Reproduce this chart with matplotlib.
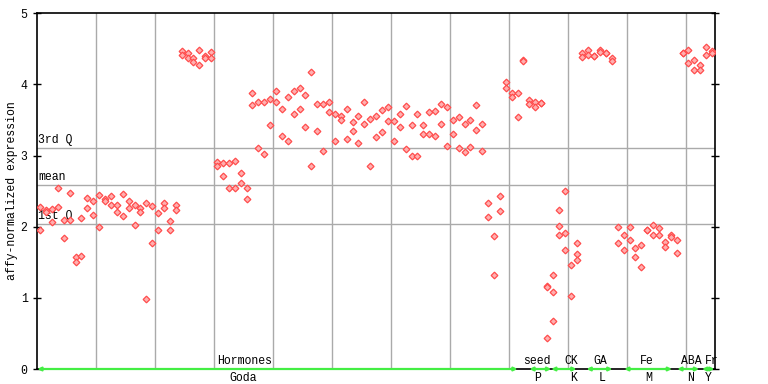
import matplotlib
matplotlib.use("Agg")
import matplotlib.pyplot as plt

## expression values per sample (replicates), read left to right
expr = [
    [2.28, 1.96], [2.23, 2.20], [2.25, 2.07], [2.55, 2.28], [2.09, 1.84],
    [2.48, 2.09], [1.57, 1.51], [2.12, 1.59], [2.41, 2.26], [2.36, 2.17],
    [2.45, 1.99], [2.39, 2.36], [2.43, 2.30], [2.30, 2.20], [2.46, 2.15],
    [2.36, 2.26], [2.30, 2.03], [2.26, 2.20], [2.34, 0.98], [2.29, 1.77],
    [2.19, 1.96], [2.33, 2.27], [2.08, 1.96], [2.30, 2.23], [4.47, 4.41],
    [4.44, 4.37], [4.37, 4.31], [4.49, 4.28], [4.40, 4.37], [4.45, 4.37],
    [2.91, 2.85], [2.89, 2.71], [2.89, 2.55], [2.93, 2.54], [2.76, 2.62],
    [2.55, 2.39], [3.88, 3.71], [3.76, 3.10], [3.75, 3.02], [3.80, 3.43],
    [3.91, 3.76], [3.66, 3.27], [3.83, 3.21], [3.91, 3.58], [3.95, 3.65],
    [3.85, 3.40], [4.18, 2.85], [3.73, 3.34], [3.72, 3.06], [3.75, 3.61],
    [3.59, 3.21], [3.55, 3.50], [3.66, 3.24], [3.47, 3.34], [3.55, 3.17],
    [3.75, 3.45], [3.52, 2.85], [3.55, 3.26], [3.64, 3.33], [3.68, 3.48],
    [3.48, 3.21], [3.58, 3.40], [3.69, 3.09], [3.43, 3.00], [3.59, 2.99],
    [3.43, 3.30], [3.61, 3.31], [3.62, 3.28], [3.72, 3.45], [3.68, 3.13],
    [3.50, 3.31], [3.54, 3.10], [3.45, 3.05], [3.50, 3.12], [3.71, 3.36],
    [3.44, 3.07], [2.34, 2.13], [1.87, 1.32], [2.43, 2.22], [4.04, 3.95],
    [3.88, 3.83], [3.88, 3.54], [4.34, 4.33], [3.78, 3.72], [3.75, 3.68],
    [3.74, 3.74], [1.17, 1.15, 0.43], [1.32, 1.08, 0.67], [2.24, 2.01, 1.88],
    [2.50, 1.91, 1.67], [1.46, 1.02], [1.77, 1.61, 1.53], [4.44, 4.38],
    [4.48, 4.42], [4.40, 4.40], [4.49, 4.45], [4.44, 4.44], [4.37, 4.33],
    [1.99, 1.77], [1.88, 1.67], [1.99, 1.81], [1.70, 1.58], [1.74, 1.44],
    [1.96, 1.96], [2.02, 1.88], [1.98, 1.89], [1.79, 1.71], [1.88, 1.85],
    [1.82, 1.63], [4.44, 4.44], [4.48, 4.30], [4.35, 4.20], [4.28, 4.21],
    [4.52, 4.41], [4.47, 4.44],
]

## quartile reference lines
q_names = ['3rd Q', 'mean', '1st Q']
q_values = [3.10, 2.58, 2.04]

## experiment groups along the bottom
group_names = ['Hormones', 'seed', 'CK', 'GA', 'Fe', 'ABA', 'Fr']
group_codes = ['Goda', 'P', 'K', 'L', 'M', 'N', 'Y']
group_start = [0.0, 83.5, 87.2, 93.2, 99.6, 108.6, 112.8]
group_end = [81.5, 87.2, 91.5, 97.6, 107.7, 112.3, 114.9]
name_pos = [35.2, 84.7, 90.6, 95.5, 103.5, 111.0, 114.4]
code_pos = [34.9, 84.9, 91.0, 95.9, 103.8, 110.8, 113.8]

n = len(expr)
font = 'Liberation Mono'
fs = 8.3

fig = plt.figure(figsize=(7.68, 3.84), dpi=100)
ax = fig.add_axes([37.3 / 768, 15 / 384, (715 - 37.3) / 768, (369 - 13.3) / 384])
ax.set_xlim(0, n)
ax.set_ylim(0, 5)

## vertical grid every 10 samples
for gx in range(10, n, 10):
    ax.axvline(gx, color='#aaaaaa', lw=1, zorder=1)

## quartile lines + labels
for name, val in zip(q_names, q_values):
    ax.axhline(val, color='#aaaaaa', lw=1, zorder=1)
    ax.text(0.2, val + 0.03, name, family=font, fontsize=fs, va='bottom', ha='left', zorder=3)

## points
xs = []
ys = []
for i, vals in enumerate(expr):
    for v in vals:
        xs.append(i + 0.5)
        ys.append(v)
ax.plot(xs, ys, 'D', ms=3.4, mfc='#ffb0b0', mec='#ff4c4c', mew=0.9, zorder=4)

## green group arrows along zero
for s, e in zip(group_start, group_end):
    ax.annotate('', xy=(e, 0), xytext=(s, 0),
                arrowprops=dict(arrowstyle='<|-|>', color='#44ee44', lw=1.6,
                                mutation_scale=5, shrinkA=0, shrinkB=0),
                annotation_clip=False, zorder=5)

for name, px in zip(group_names, name_pos):
    ax.annotate(name, (px, 0), xytext=(0, 1.5), textcoords='offset points',
                family=font, fontsize=fs, ha='center', va='bottom', annotation_clip=False)
for code, px in zip(group_codes, code_pos):
    ax.annotate(code, (px, 0), xytext=(0, -2.5), textcoords='offset points',
                family=font, fontsize=fs, ha='center', va='top', annotation_clip=False)

## axes styling
for sp in ax.spines.values():
    sp.set_color('black')
    sp.set_linewidth(1.2)
ax.set_xticks([])
ax.set_yticks(range(6))
ax.set_yticklabels([str(t) for t in range(6)], family=font, fontsize=fs)
ax.tick_params(axis='y', direction='inout', length=6, width=1, pad=4, right=True)
fig.text(12 / 768, 1 - 191 / 384, 'affy-normalized expression', family=font, fontsize=fs,
         rotation=90, ha='center', va='center')

fig.savefig('out.png', dpi=100)
